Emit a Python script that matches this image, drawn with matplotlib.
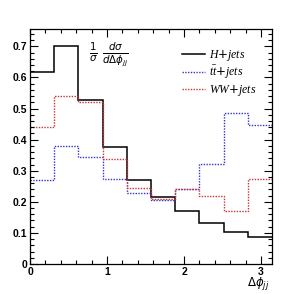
import numpy as np
import matplotlib
matplotlib.use("Agg")
import matplotlib.pyplot as plt
from matplotlib.ticker import MultipleLocator

# Data
n_bins = 10
x_max = np.pi
h_jets = [0.617, 0.700, 0.527, 0.377, 0.271, 0.214, 0.169, 0.131, 0.103, 0.087]
tt_jets = [0.269, 0.379, 0.343, 0.273, 0.229, 0.206, 0.240, 0.322, 0.485, 0.446]
ww_jets = [0.441, 0.541, 0.522, 0.337, 0.245, 0.208, 0.242, 0.219, 0.169, 0.274]
labels = ["$H$+$jets$", r"$t\bar{t}$+$jets$", "$WW$+$jets$"]
xticks = [0, 1, 2, 3]
yticks = [0, 0.1, 0.2, 0.3, 0.4, 0.5, 0.6, 0.7]

plt.rcParams['mathtext.fontset'] = 'custom'
plt.rcParams['mathtext.it'] = 'Liberation Serif:italic'
plt.rcParams['mathtext.rm'] = 'Liberation Serif'

fig = plt.figure(figsize=(3.03, 2.94), dpi=100)
ax = fig.add_axes([30/303, 1-264/294, 242/303, 235/294])

edges = np.linspace(0, x_max, n_bins + 1)
ax.stairs(h_jets, edges, color='black', lw=1.1, label=labels[0], baseline=None)
ax.stairs(tt_jets, edges, color='#3333cc', lw=1.0, ls=(0, (1, 1)), label=labels[1], baseline=None)
ax.stairs(ww_jets, edges, color='#cc3333', lw=1.0, ls=(0, (1, 1)), label=labels[2], baseline=None)

ax.set_xlim(0, x_max)
ax.set_ylim(0, 0.756)
ax.set_xticks(xticks)
ax.set_yticks(yticks)
ax.set_yticklabels([f"{v:g}" for v in yticks])
ax.xaxis.set_minor_locator(MultipleLocator(0.2))
ax.yaxis.set_minor_locator(MultipleLocator(0.02))
ax.tick_params(which='both', direction='in', top=True, right=True, width=0.8)
ax.tick_params(which='major', length=6)
ax.tick_params(which='minor', length=3)
for lab in ax.get_xticklabels() + ax.get_yticklabels():
    lab.set_fontfamily('Liberation Sans')
    lab.set_fontweight('bold')
    lab.set_fontsize(7.5)
ax.tick_params(axis='x', pad=2)
ax.tick_params(axis='y', pad=2)
for s in ax.spines.values():
    s.set_linewidth(0.9)

ax.text(0.245, 0.895, r"$\frac{1}{\sigma}\ \frac{d\sigma}{d\Delta\phi_{jj}}$",
        transform=ax.transAxes, fontsize=10.5, ha='left', va='center',
        math_fontfamily='dejavusans', color='black')
fig.text(258/303, 1-284/294, r"$\Delta\phi_{jj}$", fontsize=8.5, ha='center', va='center',
         math_fontfamily='dejavusans')

leg = ax.legend(loc='upper left', bbox_to_anchor=(0.595, 0.955), frameon=False,
                fontsize=8.5, handlelength=1.9, handletextpad=0.4, labelspacing=0.12,
                borderpad=0.2)

fig.savefig("out.png", dpi=100)
